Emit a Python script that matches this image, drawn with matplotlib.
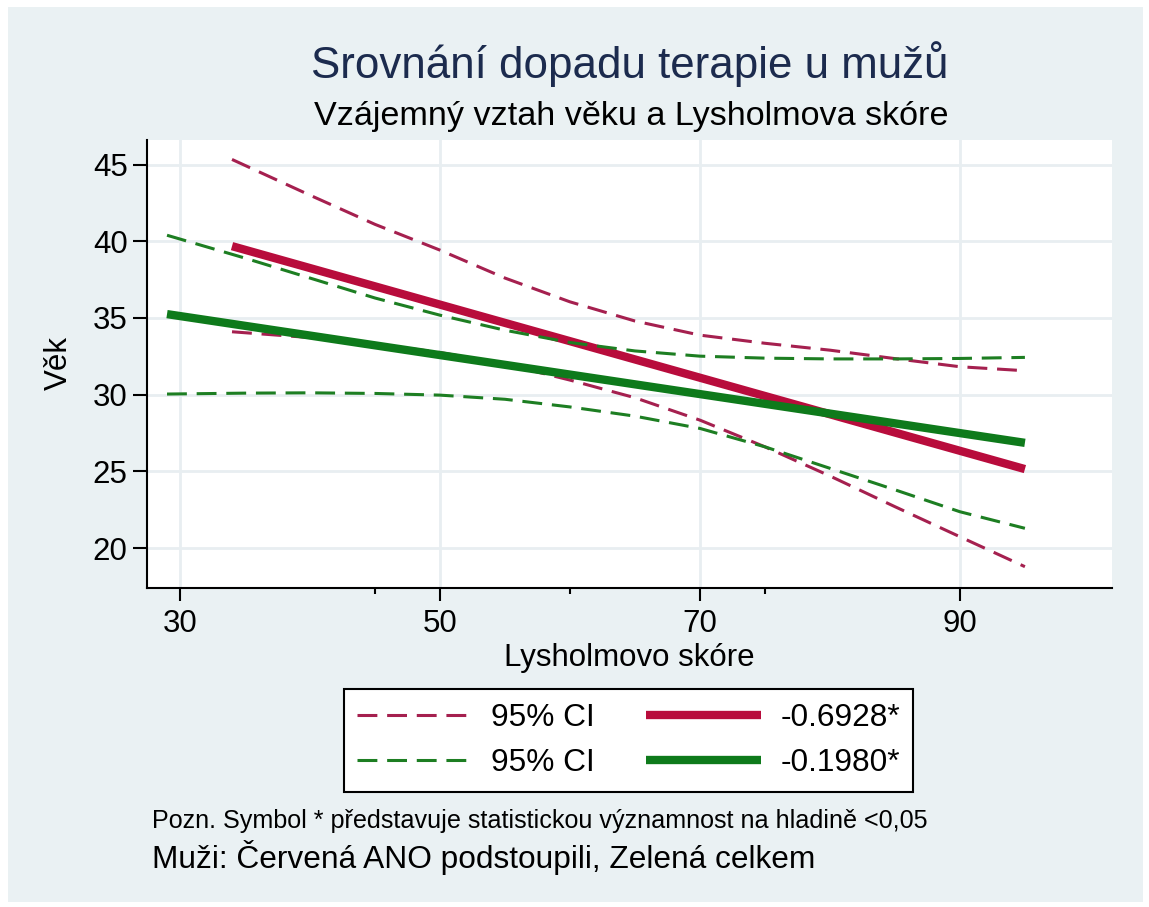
import matplotlib
matplotlib.use("Agg")
import matplotlib.pyplot as plt
from matplotlib.patches import Rectangle

plt.rcParams['font.family'] = ['Liberation Sans', 'DejaVu Sans']

# ---- data ----
red_ci_x = [34, 40, 45, 50, 55, 60, 65, 70, 75, 80, 85, 90, 95]
red_ci_upper = [45.33, 43.0, 41.1, 39.42, 37.6, 36.05, 34.8, 33.88, 33.35, 32.9, 32.35, 31.82, 31.56]
red_ci_lower = [34.1, 33.72, 33.3, 32.75, 32.0, 30.95, 29.8, 28.34, 26.6, 24.7, 22.7, 20.74, 18.79]
red_fit_x = [34, 95]
red_fit_y = [39.68, 25.15]

green_ci_x = [29, 35, 40, 45, 50, 55, 60, 65, 70, 75, 80, 85, 90, 95]
green_ci_upper = [40.39, 38.9, 37.6, 36.3, 35.18, 34.2, 33.4, 32.85, 32.51, 32.38, 32.33, 32.33, 32.36, 32.43]
green_ci_lower = [30.04, 30.1, 30.12, 30.08, 29.97, 29.7, 29.2, 28.6, 27.8, 26.6, 25.2, 23.8, 22.37, 21.29]
green_fit_x = [29, 95]
green_fit_y = [35.25, 26.86]

x_major = [30, 50, 70, 90]
x_minor = [45, 60, 75]
y_ticks = [20, 25, 30, 35, 40, 45]

title = "Srovnání dopadu terapie u mužů"
subtitle = "Vzájemný vztah věku a Lysholmova skóre"
xlabel = "Lysholmovo skóre"
ylabel = "Věk"
legend_labels = ["95% CI", "95% CI", "-0.6928*", "-0.1980*"]
note1 = "Pozn. Symbol * představuje statistickou významnost na hladině <0,05"
note2 = "Muži: Červená ANO podstoupili, Zelená celkem"

# ---- styling ----
W, H = 1149, 907
RED = "#B80C3C"
RED_D = "#A5204F"
GREEN = "#0E7A1B"
GREEN_D = "#1D7E22"
BG = "#EAF1F3"
GRID = "#E8EEF1"
TITLE_C = "#1C2B4E"

fig = plt.figure(figsize=(W / 100, H / 100), dpi=100, facecolor="white")
fig.patches.append(Rectangle((8 / W, 1 - 902 / H), (1143 - 8) / W, (902 - 7) / H,
                             transform=fig.transFigure, facecolor=BG,
                             edgecolor="none", zorder=-10))

L, R, T, B = 147, 1112, 139.5, 588
ax = fig.add_axes([L / W, 1 - B / H, (R - L) / W, (B - T) / H])
ax.set_zorder(2)
ax.set_facecolor("white")
ax.set_xlim(27.46, 101.7)
ax.set_ylim(17.4, 46.63)

for s in ["top", "right"]:
    ax.spines[s].set_visible(False)
for s in ["left", "bottom"]:
    ax.spines[s].set_linewidth(1.5)
    ax.spines[s].set_color("black")

ax.set_xticks(x_major)
ax.set_xticks(x_minor, minor=True)
ax.set_yticks(y_ticks)
ax.tick_params(axis="x", which="major", length=9, width=1.5, labelsize=22.5, pad=6)
ax.tick_params(axis="x", which="minor", length=4, width=1.5)
ax.tick_params(axis="y", which="major", length=10, width=1.5, labelsize=22.5, pad=4)
ax.grid(True, which="major", color=GRID, linewidth=2)
ax.set_axisbelow(True)

dash = (6.5, 3.2)
lw_d = 2.2
l_ru, = ax.plot(red_ci_x, red_ci_upper, color=RED_D, lw=lw_d, dashes=dash)
ax.plot(red_ci_x, red_ci_lower, color=RED_D, lw=lw_d, dashes=dash)
l_rf, = ax.plot(red_fit_x, red_fit_y, color=RED, lw=6, solid_capstyle="butt")
l_gu, = ax.plot(green_ci_x, green_ci_upper, color=GREEN_D, lw=lw_d, dashes=dash)
ax.plot(green_ci_x, green_ci_lower, color=GREEN_D, lw=lw_d, dashes=dash)
l_gf, = ax.plot(green_fit_x, green_fit_y, color=GREEN, lw=6, solid_capstyle="butt")


def fx(px):
    return px / W


def fy(py):
    return 1 - py / H


fig.text(fx(630), fy(78), title, fontsize=31.6, color=TITLE_C, ha="center", va="baseline")
fig.text(fx(631), fy(125), subtitle, fontsize=24.6, color="black", ha="center", va="baseline")
fig.text(fx(629), fy(666), xlabel, fontsize=22.5, color="black", ha="center", va="baseline")
fig.text(fx(59), fy(363), ylabel, fontsize=22.5, color="black", ha="center", va="center",
         rotation=90)

leg = fig.legend([l_ru, l_gu, l_rf, l_gf], legend_labels, ncol=2,
                 loc="center", bbox_to_anchor=(fx(628.5), fy(740.5)),
                 fontsize=22.8, frameon=True, fancybox=False, framealpha=1,
                 edgecolor="black", facecolor="white",
                 handlelength=3.65, handletextpad=0.6, columnspacing=1.6,
                 labelspacing=0.5, borderpad=0.42)
leg.get_frame().set_linewidth(1.5)

fig.text(fx(152), fy(828), note1, fontsize=18.1, color="black", ha="left", va="baseline")
fig.text(fx(152), fy(868), note2, fontsize=22.8, color="black", ha="left", va="baseline")

fig.savefig("out.png", dpi=100, facecolor="white")
